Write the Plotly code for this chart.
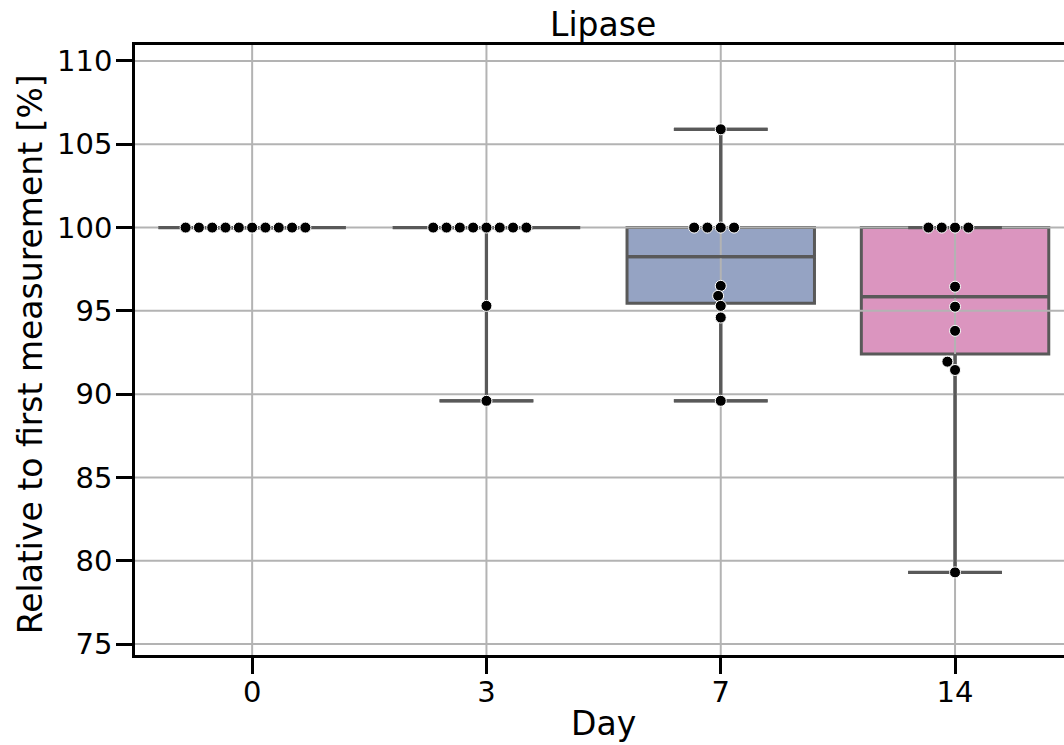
import numpy as np
import plotly.graph_objects as go

# ---- data -------------------------------------------------------------
days = ["0", "3", "7", "14"]
day_0 = [100, 100, 100, 100, 100, 100, 100, 100, 100, 100]
day_3 = [100, 100, 100, 100, 100, 100, 100, 100, 95.3, 89.6]
day_7 = [105.9, 100, 100, 100, 100, 96.5, 95.9, 95.3, 94.6, 89.6]
day_14 = [100, 100, 100, 100, 96.45, 95.25, 93.8, 91.95, 91.45, 79.3]
series = [day_0, day_3, day_7, day_14]

y_ticks = [75, 80, 85, 90, 95, 100, 105, 110]

# ---- style ------------------------------------------------------------
box_fill = ["#72b6a1", "#e1976f", "#95a3c3", "#db95bf"]
edge = "#595959"
grid_col = "#b3b3b3"
font = "DejaVu Sans"

x_range = [-0.5, 3.465]
y_range = [74.34, 110.96]
box_w = 0.8
cap_half = box_w * 0.25


def swarm_offsets(values, rx, ry, gap=1.05):
    """Beeswarm layout: dots treated as ellipses of diameter rx (x) / ry (y)."""
    values = np.asarray(values, dtype=float)
    order = np.argsort(values, kind="stable")
    placed = []
    offsets = np.zeros(len(values))
    for idx in order:
        y = values[idx]
        near = [(px, py) for px, py in placed if abs(y - py) < ry]
        cands = [0.0]
        for px, py in near:
            t = (y - py) / ry
            w = np.sqrt(max(1 - t * t, 0.0)) * rx * gap
            cands += [px - w, px + w]
        cands.sort(key=lambda c: (round(abs(c), 9), c))
        choice = cands[-1]
        for c in cands:
            if all(((c - px) / rx) ** 2 + ((y - py) / ry) ** 2 >= 1 - 1e-9
                   for px, py in near):
                choice = c
                break
        placed.append((choice, y))
        offsets[idx] = choice
    return offsets


fig = go.Figure()

# box bodies (patches)
stats = []
for i, vals in enumerate(series):
    q1, med, q3 = np.percentile(vals, [25, 50, 75])
    lo, hi = float(np.min(vals)), float(np.max(vals))
    stats.append((q1, med, q3, lo, hi))
    fig.add_trace(go.Box(
        x=[i], q1=[q1], median=[med], q3=[q3],
        lowerfence=[lo], upperfence=[hi],
        width=box_w, whiskerwidth=0.5,
        fillcolor=box_fill[i], line=dict(color=edge, width=3),
        boxpoints=False, hoverinfo="skip", showlegend=False,
    ))

# grid lines, drawn over the box bodies
gx, gy = [], []
for t in range(len(days)):
    gx += [t, t, None]
    gy += [y_range[0], y_range[1], None]
for t in y_ticks:
    gx += [x_range[0], x_range[1], None]
    gy += [t, t, None]
fig.add_trace(go.Scatter(x=gx, y=gy, mode="lines",
                         line=dict(color=grid_col, width=2),
                         hoverinfo="skip", showlegend=False))

# whiskers, caps and medians on top of the grid
for i, (q1, med, q3, lo, hi) in enumerate(stats):
    xs = [i, i, None, i, i, None,
          i - cap_half, i + cap_half, None,
          i - cap_half, i + cap_half, None,
          i - box_w / 2, i + box_w / 2]
    ys = [lo, q1, None, q3, hi, None,
          lo, lo, None, hi, hi, None,
          med, med]
    fig.add_trace(go.Scatter(x=xs, y=ys, mode="lines",
                             line=dict(color=edge, width=3.2),
                             hoverinfo="skip", showlegend=False))

# swarm of individual measurements
for i, vals in enumerate(series):
    off = swarm_offsets(vals, rx=0.0541, ry=0.612)
    fig.add_trace(go.Scatter(
        x=i + off, y=vals, mode="markers",
        marker=dict(color="black", size=11, line=dict(color="white", width=1)),
        showlegend=False,
    ))

axis_common = dict(
    showline=True, linecolor="black", linewidth=2.5,
    ticks="outside", ticklen=16, tickwidth=2.5, tickcolor="black",
    showgrid=False, zeroline=False,
    tickfont=dict(family=font, size=29, color="black"),
)

fig.update_layout(
    width=1064, height=745,
    margin=dict(l=135, r=0, t=45, b=90),
    plot_bgcolor="white", paper_bgcolor="white",
    xaxis=dict(range=x_range, tickvals=list(range(len(days))), ticktext=days,
               mirror=True, ticklabelstandoff=-7, **axis_common),
    yaxis=dict(range=y_range, tickvals=y_ticks, mirror=False,
               ticklabelstandoff=-2, **axis_common),
    font=dict(family=font, color="black"),
    annotations=[
        dict(text="Lipase", xref="paper", yref="paper", x=0.5038, y=1,
             yshift=21, xanchor="center", yanchor="middle", showarrow=False,
             font=dict(family=font, size=33, color="black")),
        dict(text="Day", xref="paper", yref="paper", x=0.5038, y=0,
             yshift=-68, xanchor="center", yanchor="middle", showarrow=False,
             font=dict(family=font, size=33, color="black")),
        dict(text="Relative to first measurement [%]", xref="paper", yref="paper",
             x=0, xshift=-105, y=0.493, textangle=-90,
             xanchor="center", yanchor="middle", showarrow=False,
             font=dict(family=font, size=33, color="black")),
    ],
)

fig.write_html("out.html")
